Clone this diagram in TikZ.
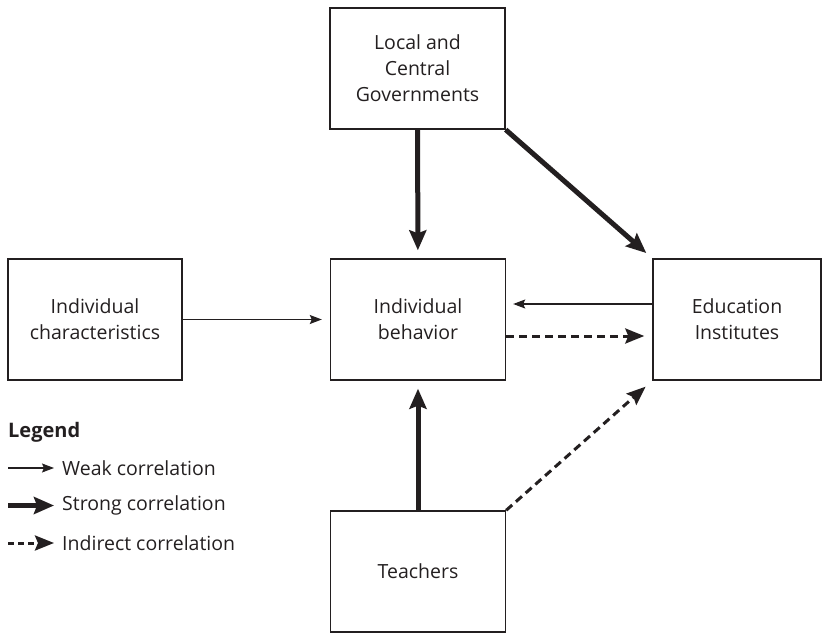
\documentclass[tikz,border=0pt]{standalone}
\usepackage{fontspec}
\setmainfont{Open Sans}
\usetikzlibrary{arrows.meta,positioning}
\definecolor{ink}{RGB}{35,31,32}
\tikzset{
  box/.style={draw=ink,line width=1.4pt,minimum width=175pt,minimum height=121pt,
    align=center,font=\fontsize{19.5}{26}\selectfont,text=ink,inner sep=0pt},
  weak/.style={draw=ink,line width=1.1pt,-{Stealth[length=12pt,width=9pt,inset=2pt]}},
  strong/.style={draw=ink,line width=5pt,-{Stealth[length=20pt,width=17pt,inset=3pt]}},
  indirect/.style={draw=ink,line width=3pt,dash pattern=on 8pt off 5pt,
    -{Stealth[length=19pt,width=15pt,inset=3pt]}},
  key/.style={font=\fontsize{19.5}{23}\selectfont,text=ink,inner sep=0pt,anchor=west},
}
\begin{document}
\begin{tikzpicture}[x=1pt,y=-1pt]
  \useasboundingbox (0,0) rectangle (823,634);
  % boxes
  \node[box] (gov) at (417.5,68.5) {Local and\\Central\\Governments};
  \node[box] (behav) at (418,319.5) {Individual\\behavior};
  \node[box,minimum width=174pt] (char) at (95,319.5) {Individual\\characteristics};
  \node[box,minimum width=168pt] (edu) at (737,319.5) {Education\\Institutes};
  \node[box] (teach) at (418,571.5) {Teachers};
  % connectors
  \draw[strong,shorten >=8pt] (gov) -- (behav);
  \draw[strong,shorten >=8pt] (gov.south east) -- (edu.north west);
  \draw[strong,shorten >=8pt] (teach) -- (behav);
  \draw[weak,shorten >=8pt] (char) -- (behav);
  \draw[weak,shorten >=7pt] ([yshift=15.5pt]edu.west) -- ([yshift=15.5pt]behav.east);
  \draw[indirect,shorten >=8pt] ([yshift=-16.5pt]behav.east) -- ([yshift=-16.5pt]edu.west);
  \draw[indirect,shorten >=9pt] (teach.north east) -- (edu.south west);
  % legend
  \node[key,font=\fontsize{20}{24}\bfseries] (leg) at (8,432) {Legend};
  \node[key] (kw) at (62,468) {Weak correlation};
  \node[key,below=37.5pt of kw.west,anchor=west] (ks) {Strong correlation};
  \node[key,below=37.5pt of ks.west,anchor=west] (ki) {Indirect correlation};
  \coordinate (w0) at (8,468);
  \coordinate (s0) at (ks.west -| w0);
  \coordinate (i0) at (ki.west -| w0);
  \draw[weak,shorten >=8pt] (w0) -- (kw.west);
  \draw[strong,shorten >=8pt] (s0) -- (ks.west);
  \draw[indirect,dash pattern=on 6pt off 4pt,shorten >=8pt] (i0) -- (ki.west);
\end{tikzpicture}
\end{document}
